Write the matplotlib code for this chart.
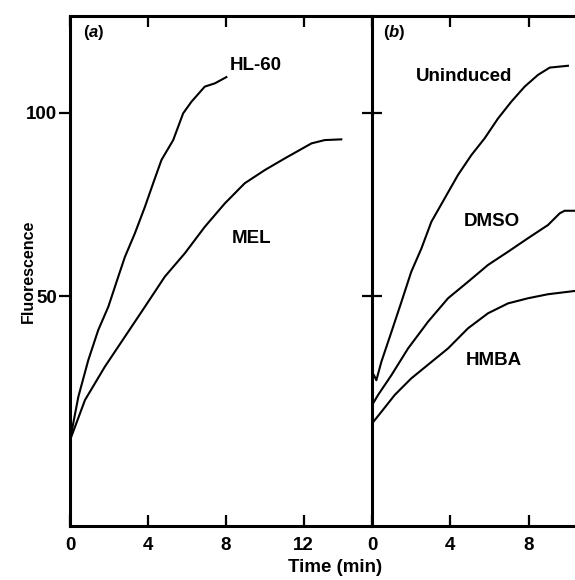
import numpy as np
import matplotlib
matplotlib.use("Agg")
import matplotlib.pyplot as plt

plt.rcParams['font.family'] = ['Liberation Sans', 'DejaVu Sans']
plt.rcParams['font.weight'] = 'bold'
plt.rcParams['mathtext.fontset'] = 'custom'
plt.rcParams['mathtext.it'] = 'Liberation Sans:italic:bold'
plt.rcParams['mathtext.rm'] = 'Liberation Sans:bold'

# (a) cell lines
hl60_t = [0.0, 0.43, 0.94, 1.45, 1.97, 2.48, 2.82, 3.33, 3.85, 4.27, 4.7, 5.3,
          5.81, 6.24, 6.92, 7.44, 8.03]
hl60_f = [10.6, 22.5, 32.5, 40.7, 47.1, 55.3, 60.7, 67.1, 74.4, 80.8, 87.2, 92.6,
          99.9, 103.1, 107.2, 108.1, 109.8]
mel_t = [0.0, 0.77, 1.79, 2.82, 3.85, 4.87, 5.9, 6.92, 7.95, 8.97, 10.0, 11.03,
         12.4, 13.08, 13.93]
mel_f = [10.6, 21.6, 30.7, 38.9, 47.1, 55.3, 61.7, 68.9, 75.3, 80.8, 84.4, 87.6,
         91.7, 92.6, 92.8]

# (b) MEL cells, uninduced and induced
unind_t = [0.1, 0.22, 0.48, 0.99, 1.5, 2.0, 2.52, 3.03, 3.71, 4.39, 5.07, 5.75,
           6.43, 7.11, 7.79, 8.47, 9.07, 10.0]
unind_f = [28.4, 27.0, 32.1, 40.2, 48.4, 56.6, 63.0, 70.3, 76.7, 83.1, 88.5, 93.1,
           98.5, 103.1, 107.2, 110.4, 112.4, 112.9]
dmso_t = [0.0, 0.31, 0.99, 1.84, 2.86, 3.88, 4.9, 5.92, 6.94, 7.96, 8.98, 9.58,
          9.83, 10.36]
dmso_f = [20.2, 23.0, 28.4, 35.7, 43.0, 49.4, 53.9, 58.5, 62.1, 65.8, 69.4, 72.6,
          73.3, 73.3]
hmba_t = [0.0, 0.48, 1.16, 2.0, 3.03, 3.88, 4.9, 5.92, 6.94, 7.96, 8.98, 10.36]
hmba_f = [15.2, 18.4, 23.0, 27.5, 32.0, 35.7, 41.2, 45.3, 48.0, 49.4, 50.5, 51.4]

ylim = (-12.8, 126.6)
lw_axis = 2.2
lw_curve = 1.5

fig = plt.figure(figsize=(5.75, 5.8), dpi=100)
ax_a = fig.add_axes([0.1217, 0.0931, 0.525, 0.880])
ax_b = fig.add_axes([0.647, 0.0931, 0.353, 0.880])

for ax in (ax_a, ax_b):
    ax.set_ylim(*ylim)
    for s in ax.spines.values():
        s.set_linewidth(lw_axis)
    ax.spines['right'].set_visible(False)
    ax.tick_params(axis='x', which='both', direction='in', length=8, width=1.6,
                   top=True, labelsize=13.5, pad=8)
    ax.set_yticks([50, 100])

ax_a.set_xlim(0, 15.5)
ax_a.set_xticks([0, 4, 8, 12])
ax_a.tick_params(axis='y', direction='out', length=8, width=1.6, labelsize=13.5, pad=1.5)

ax_b.set_xlim(0, 10.36)
ax_b.set_xticks([0, 4, 8])
ax_b.tick_params(axis='y', direction='inout', length=14, width=1.6, labelleft=False)

ax_a.plot(hl60_t, hl60_f, color='black', lw=lw_curve)
ax_a.plot(mel_t, mel_f, color='black', lw=lw_curve)
ax_b.plot(unind_t, unind_f, color='black', lw=lw_curve)
ax_b.plot(dmso_t, dmso_f, color='black', lw=lw_curve)
ax_b.plot(hmba_t, hmba_f, color='black', lw=lw_curve)

lab = dict(fontsize=13.5, va='center', ha='left')
ax_a.text(0.67, 121.9, '($a$)', fontsize=12, va='center', ha='left')
ax_a.text(8.2, 113.0, 'HL-60', **lab)
ax_a.text(8.3, 65.6, 'MEL', **lab)
ax_b.text(0.56, 121.9, '($b$)', fontsize=12, va='center', ha='left')
ax_b.text(2.25, 109.9, 'Uninduced', **lab)
ax_b.text(4.7, 70.3, 'DMSO', **lab)
ax_b.text(4.8, 32.5, 'HMBA', **lab)

fig.text(28 / 575, 1 - 271 / 580, 'Fluorescence', fontsize=11.5, rotation=90,
         ha='center', va='center')
fig.text(335 / 575, 1 - 568 / 580, 'Time (min)', fontsize=13.5, ha='center', va='center')

fig.savefig('out.png', dpi=100)
